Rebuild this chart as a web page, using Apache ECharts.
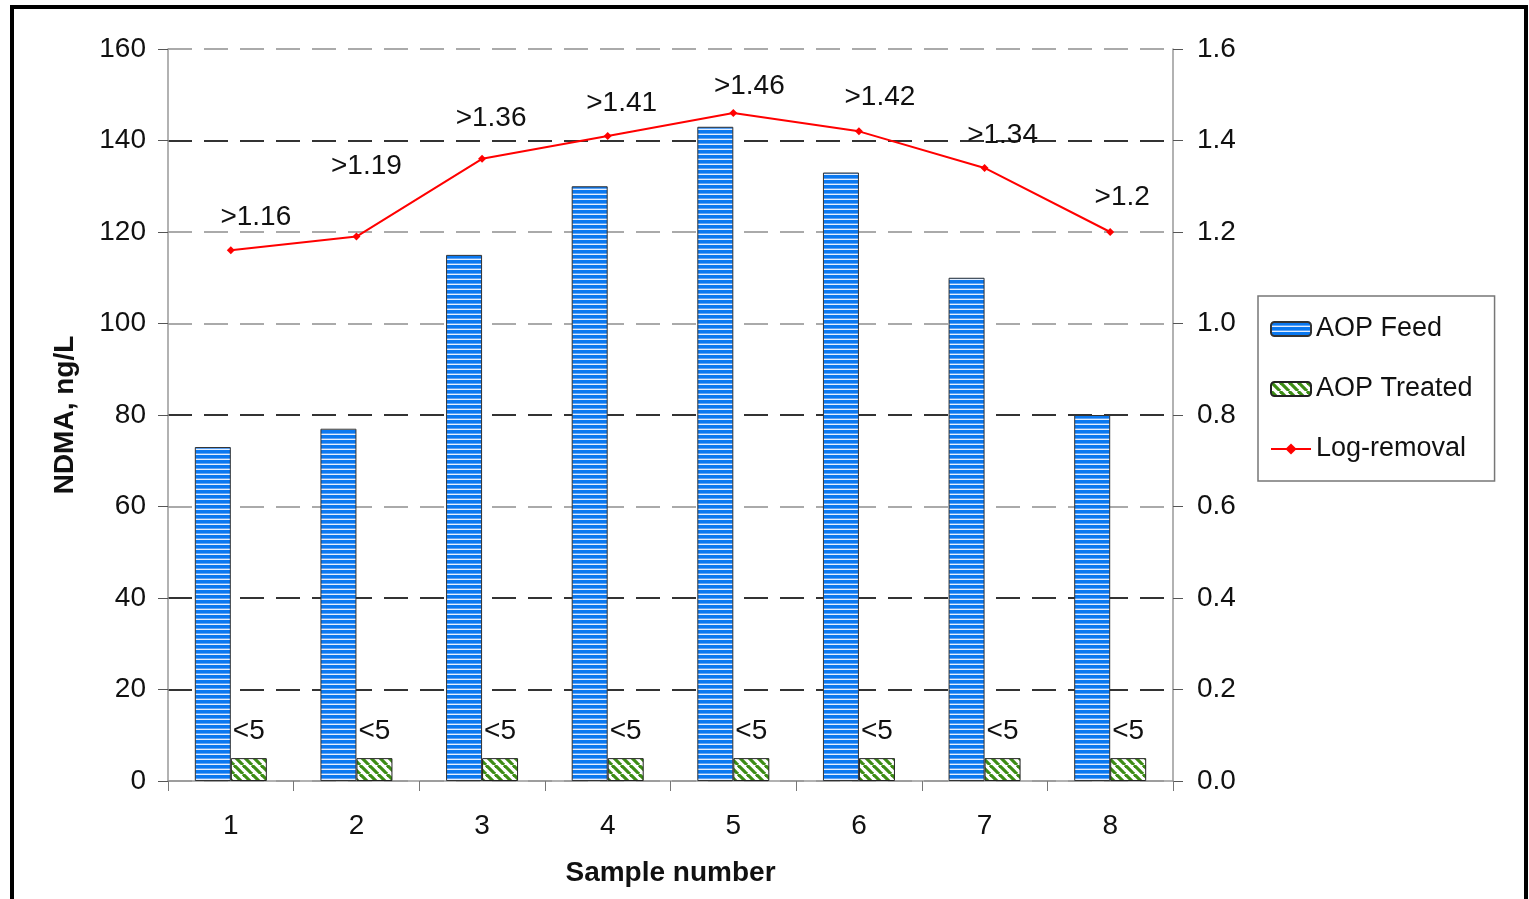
<!DOCTYPE html>
<html>
<head>
<meta charset="utf-8">
<script src="https://cdn.jsdelivr.net/npm/echarts@6/dist/echarts.min.js"></script>
<style>
html,body{margin:0;padding:0;background:#fff;}
#chart{width:1529px;height:899px;}
</style>
</head>
<body>
<div id="chart"></div>
<script>
// ---- data ----
const categories = ['1','2','3','4','5','6','7','8'];
const aopFeed = [73, 77, 115, 130, 143, 133, 110, 80];
const aopTreated = [5, 5, 5, 5, 5, 5, 5, 5];
const logRemoval = [1.16, 1.19, 1.36, 1.41, 1.46, 1.42, 1.34, 1.2];
const leftTicks = [0, 20, 40, 60, 80, 100, 120, 140, 160];

// ---- styling (label nudges, not data) ----
const lineLabelOffsets = [[25,-15],[10,-52],[9,-23],[14,-15],[16,-9],[21,-16],[18,-15],[12,-17]];
const gridColors = ['#aaa','#333','#333','#aaa','#333','#aaa','#aaa','#333','#aaa'];

function stripePattern() {
  const c = document.createElement('canvas');
  c.width = 4; c.height = 5;
  const g = c.getContext('2d');
  g.fillStyle = '#e4efff'; g.fillRect(0,0,4,5);
  g.fillStyle = '#0a78f0'; g.fillRect(0,0,4,3);
  g.fillStyle = '#5aa2f5'; g.fillRect(0,3,4,1);
  return c;
}
function diagPattern() {
  const s = 9;
  const c = document.createElement('canvas');
  c.width = s; c.height = s;
  const g = c.getContext('2d');
  g.fillStyle = '#ffffff'; g.fillRect(0,0,s,s);
  g.strokeStyle = '#3c8c14'; g.lineWidth = 3.2;
  for (let k = -1; k <= 1; k++) {
    g.beginPath();
    g.moveTo(k*s, 0); g.lineTo(k*s + s, s);
    g.stroke();
  }
  return c;
}

const chart = echarts.init(document.getElementById('chart'));
const font = 'Liberation Sans, Arial, sans-serif';

chart.setOption({
  animation: false,
  backgroundColor: '#fff',
  textStyle: { fontFamily: font },
  grid: { left: 168, right: 356, top: 49, bottom: 118 },
  graphic: [{
    type: 'rect',
    shape: { x: 12, y: 7, width: 1514, height: 905 },
    style: { fill: 'none', stroke: '#000', lineWidth: 4 },
    z: 100
  }],
  legend: {
    orient: 'vertical',
    left: 1258, top: 296,
    padding: [19, 22, 18, 12],
    itemGap: 32,
    itemWidth: 40, itemHeight: 14,
    borderColor: '#777', borderWidth: 1.5,
    textStyle: { fontSize: 27, color: '#111', fontFamily: font, lineHeight: 28 },
    data: ['AOP Feed', 'AOP Treated', 'Log-removal']
  },
  xAxis: {
    type: 'category',
    data: categories,
    name: 'Sample number',
    nameLocation: 'middle',
    nameGap: 78,
    nameTextStyle: { fontSize: 28, fontWeight: 'bold', color: '#111' },
    axisLine: { lineStyle: { color: '#999', width: 1.5 } },
    axisTick: { show: true, alignWithLabel: false, length: 10, lineStyle: { color: '#777' } },
    axisLabel: { fontSize: 28, color: '#111', margin: 31 }
  },
  yAxis: [{
    type: 'value',
    min: 0, max: 160, interval: 20,
    name: 'NDMA, ng/L',
    nameLocation: 'middle',
    nameGap: 89,
    nameTextStyle: { fontSize: 28, fontWeight: 'bold', color: '#111' },
    axisLine: { show: true, lineStyle: { color: '#999', width: 1.5 } },
    axisTick: { show: true, length: 10, lineStyle: { color: '#555' } },
    axisLabel: { fontSize: 28, color: '#111', margin: 22,
      formatter: v => leftTicks.includes(v) ? String(v) : '' },
    splitLine: { show: true, lineStyle: { color: gridColors, width: 2, type: [24, 12] } }
  }, {
    type: 'value',
    min: 0, max: 1.6, interval: 0.2,
    position: 'right',
    axisLine: { show: true, lineStyle: { color: '#999', width: 1.5 } },
    axisTick: { show: true, length: 10, lineStyle: { color: '#555' } },
    axisLabel: { fontSize: 28, color: '#111', margin: 24, formatter: v => v.toFixed(1) },
    splitLine: { show: false }
  }],
  series: [{
    name: 'AOP Feed',
    type: 'bar',
    data: aopFeed,
    barWidth: 36,
    barGap: '0%',
    itemStyle: { color: { image: stripePattern(), repeat: 'repeat' }, borderColor: '#333', borderWidth: 1 }
  }, {
    name: 'AOP Treated',
    type: 'bar',
    data: aopTreated,
    barWidth: 36,
    barGap: '0%',
    itemStyle: { color: { image: diagPattern(), repeat: 'repeat' }, borderColor: '#222', borderWidth: 1 },
    label: { show: true, position: 'top', distance: 13, fontSize: 28, color: '#111',
      formatter: () => '<5' }
  }, {
    name: 'Log-removal',
    type: 'line',
    yAxisIndex: 1,
    data: logRemoval.map((v, i) => ({
      value: v,
      label: { offset: lineLabelOffsets[i] }
    })),
    symbol: 'diamond',
    symbolSize: 8,
    lineStyle: { color: '#ff0000', width: 2 },
    itemStyle: { color: '#ff0000' },
    label: { show: true, position: 'top', distance: 0, fontSize: 28, color: '#111',
      formatter: p => '>' + p.value },
    z: 5
  }]
});
</script>
</body>
</html>
